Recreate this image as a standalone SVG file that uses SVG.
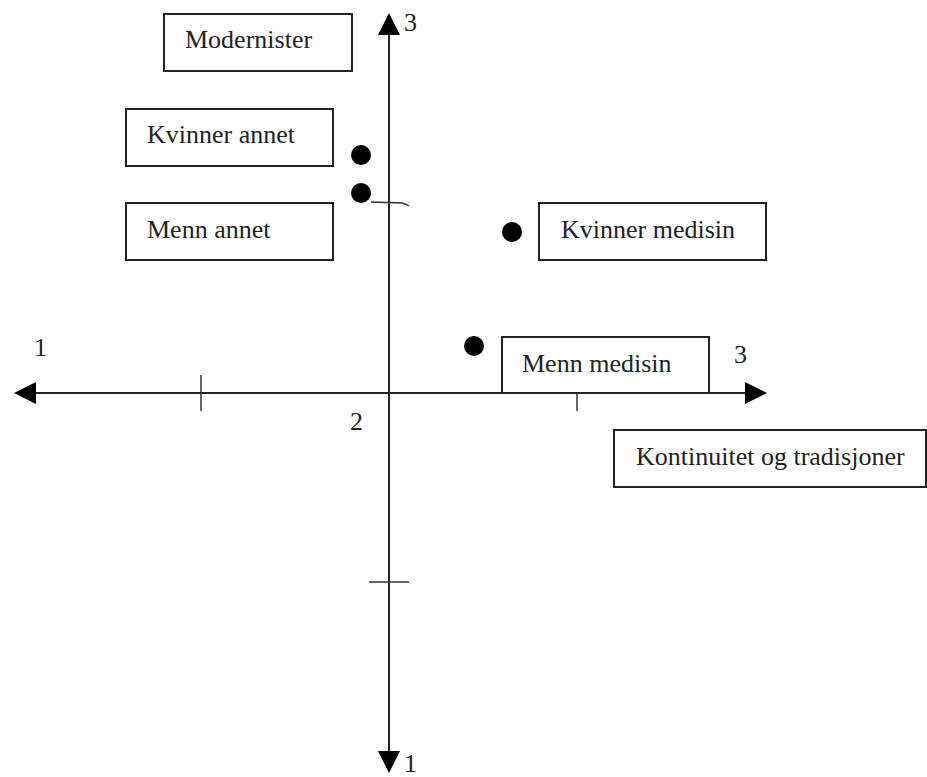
<svg xmlns="http://www.w3.org/2000/svg" width="927" height="777" viewBox="0 0 927 777">
<style>
.box{fill:#fff;stroke:#222;stroke-width:2}
.t{font-family:"Liberation Serif","Times New Roman",serif;font-size:26px;fill:#222}
.ax{stroke:#222;stroke-width:2;fill:none}
.tk{stroke:#333;stroke-width:1.5;fill:none}
.dot{fill:#000}
.ah{fill:#000}
</style>
<rect width="927" height="777" fill="#fff"/>
<g id="connectors">
<line class="ax" x1="389" y1="30" x2="389" y2="755"/>
<line class="ax" x1="30" y1="393" x2="750" y2="393"/>
<polygon class="ah" points="389,13 378,35 400,35"/>
<polygon class="ah" points="389,773 378,751 400,751"/>
<polygon class="ah" points="14,393 36,382 36,404"/>
<polygon class="ah" points="767,393 745,382 745,404"/>
<line class="tk" x1="201" y1="375" x2="201" y2="411"/>
<line class="tk" x1="577" y1="393" x2="577" y2="411"/>
<line class="tk" x1="369" y1="582" x2="409" y2="582"/>
<path class="tk" d="M371,202 L402,203 Q406,204 409,206"/>
</g>
<g id="axis-labels">
<text class="t" x="404" y="31">3</text>
<text class="t" x="404" y="772">1</text>
<text class="t" x="34" y="356">1</text>
<text class="t" x="734" y="363">3</text>
<text class="t" x="350" y="430">2</text>
</g>
<g id="modernister">
<rect class="box" x="164" y="14" width="188" height="57"/>
<text class="t" x="185" y="48">Modernister</text>
</g>
<g id="kvinner-annet">
<rect class="box" x="126" y="109" width="207" height="57"/>
<text class="t" x="147" y="143">Kvinner annet</text>
</g>
<g id="menn-annet">
<rect class="box" x="126" y="203" width="207" height="57"/>
<text class="t" x="147" y="238">Menn annet</text>
</g>
<g id="kvinner-medisin">
<rect class="box" x="539" y="203" width="227" height="57"/>
<text class="t" x="561" y="238">Kvinner medisin</text>
</g>
<g id="menn-medisin">
<rect class="box" x="502" y="337" width="207" height="56"/>
<text class="t" x="522" y="372">Menn medisin</text>
</g>
<g id="kontinuitet">
<rect class="box" x="614" y="430" width="312" height="57"/>
<text class="t" x="636" y="465">Kontinuitet og tradisjoner</text>
</g>
<g id="points">
<circle class="dot" cx="361" cy="155" r="10"/>
<circle class="dot" cx="361" cy="193" r="10"/>
<circle class="dot" cx="512" cy="232" r="10"/>
<circle class="dot" cx="474" cy="346" r="10"/>
</g>
</svg>
